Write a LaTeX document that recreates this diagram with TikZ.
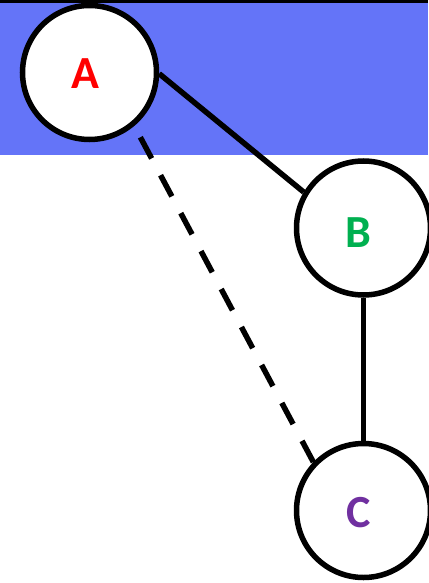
\documentclass[tikz,border=0pt]{standalone}
\usepackage{fontspec}
\setmainfont{Carlito}
\definecolor{bandblue}{RGB}{100,116,248}
\definecolor{labred}{RGB}{255,0,0}
\definecolor{labgreen}{RGB}{0,176,80}
\definecolor{labpurple}{RGB}{112,48,160}
\tikzset{
  vertex/.style={circle, draw=black, line width=5.5pt, fill=white, minimum size=134pt, inner sep=0pt},
  vlabel/.style={inner sep=0pt, font=\fontsize{46}{46}\selectfont\bfseries},
  edge/.style={line width=5.5pt, draw=black},
  dashedge/.style={line width=5.5pt, draw=black, dash pattern=on 24pt off 19pt}
}
\begin{document}
\begin{tikzpicture}[x=1pt, y=-1pt]
  \useasboundingbox (0,0) rectangle (428,583);
  % background band with a thin dark rule on top
  \fill[bandblue] (0,2.7) rectangle (428,155);
  \fill[black] (0,0) rectangle (428,2.7);
  % vertices
  \node[vertex] (A) at (89.5,72.5) {};
  \node[vertex] (B) at (363.5,228) {};
  \node[vertex] (C) at (363.5,510.5) {};
  % vertex labels
  \node[vlabel, text=labred] (Alab) at (85,74) {A};
  \node[vlabel, text=labgreen] (Blab) at (358.5,232.5) {B};
  \node[vlabel, text=labpurple] (Clab) at (358.5,513) {C};
  % connectors
  \draw[edge] (A.-1.7) -- (B.149.3);
  \draw[edge] (B.south) -- (C.north);
  \draw[dashedge] (C.136.8) -- (A.-50.3);
\end{tikzpicture}
\end{document}
